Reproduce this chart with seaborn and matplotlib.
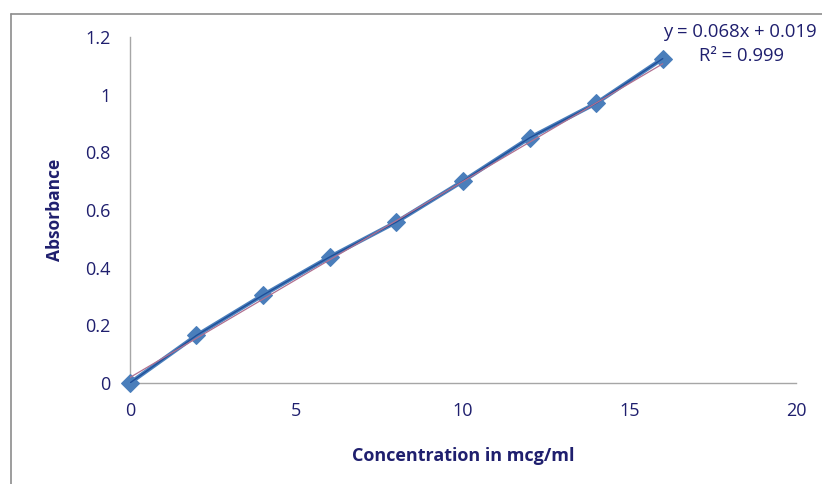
import numpy as np
import pandas as pd
import matplotlib
matplotlib.use("Agg")
import matplotlib.pyplot as plt
import seaborn as sns
from matplotlib.lines import Line2D

# data
concentration = [0, 2, 4, 6, 8, 10, 12, 14, 16]
absorbance = [0.0, 0.165, 0.305, 0.437, 0.558, 0.700, 0.850, 0.970, 1.125]
slope = 0.068
intercept = 0.019
r_squared = 0.999

df = pd.DataFrame({"Concentration": concentration, "Absorbance": absorbance})

sns.set_style("white")
plt.rcParams["font.family"] = ["Open Sans", "DejaVu Sans"]

text_color = "#1f1f6e"
axis_color = "#a6a6a6"

fig = plt.figure(figsize=(8.22, 4.84), dpi=100)
ax = fig.add_axes([0.158, 0.2087, 0.8103, 0.7149])

# outer chart border (top and left visible)
fig.add_artist(Line2D([0.0134, 0.0134], [0, 0.971], transform=fig.transFigure,
                      color="#8c8c8c", lw=1.2))
fig.add_artist(Line2D([0.0134, 1.0], [0.971, 0.971], transform=fig.transFigure,
                      color="#8c8c8c", lw=1.2))

# series line with diamond markers
sns.lineplot(data=df, x="Concentration", y="Absorbance", ax=ax,
             color="#4a7ebb", lw=3, marker="D", markersize=9,
             markeredgecolor="#4a7ebb", zorder=3, clip_on=False)
sns.lineplot(data=df, x="Concentration", y="Absorbance", ax=ax,
             color="#1f4f99", lw=1, zorder=4)

# linear trendline
tx = np.array([concentration[0], concentration[-1]])
ax.plot(tx, slope * tx + intercept, color="#b07090", lw=0.9, zorder=5)

ax.set_xlim(0, 20)
ax.set_ylim(0, 1.2)
ax.set_xticks([0, 5, 10, 15, 20])
ax.set_yticks([0, 0.2, 0.4, 0.6, 0.8, 1.0, 1.2])
ax.set_yticklabels(["0", "0.2", "0.4", "0.6", "0.8", "1", "1.2"])

ax.set_xlabel("Concentration in mcg/ml", fontsize=13, fontweight="bold",
              color=text_color, labelpad=19)
ax.set_ylabel("Absorbance", fontsize=12.5, fontweight="bold",
              color=text_color, labelpad=15)

ax.tick_params(axis="both", which="major", labelsize=13, colors=axis_color,
               labelcolor=text_color, direction="out", length=5, width=1)
ax.tick_params(axis="x", pad=9)
ax.tick_params(axis="y", pad=9)

for s in ["top", "right"]:
    ax.spines[s].set_visible(False)
for s in ["bottom", "left"]:
    ax.spines[s].set_color(axis_color)
    ax.spines[s].set_linewidth(1)
ax.grid(False)

fig.text(0.806, 0.934, f"y = {slope:.3f}x + {intercept:.3f}", fontsize=13.3,
         color=text_color, ha="left", va="center")
fig.text(0.902, 0.884, f"R² = {r_squared:.3f}", fontsize=13.3,
         color=text_color, ha="center", va="center")

fig.savefig("out.png", dpi=100)
